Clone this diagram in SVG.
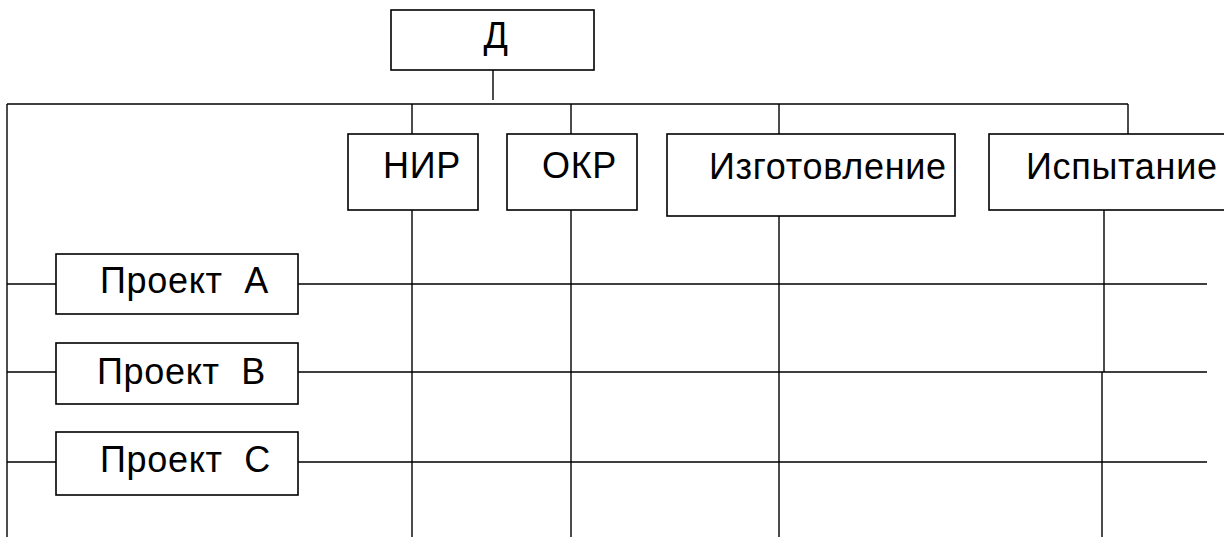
<svg xmlns="http://www.w3.org/2000/svg" width="1224" height="537" viewBox="0 0 1224 537">
  <style>
    .box { fill: #fff; stroke: #000; stroke-width: 1.6; }
    .lbl { font-family: "Liberation Sans", Arial, sans-serif; font-size: 36px; letter-spacing: 0.7px; fill: #000; }
    .ln { fill: none; stroke: #000; stroke-width: 1.4; }
  </style>
  <rect width="1224" height="537" fill="#fff"/>

  <!-- connectors -->
  <g id="connectors" class="ln">
    <path d="M493 70 V100"/>
    <path d="M7 104 H1128"/>
    <path d="M7 104 V537"/>
    <path d="M412 104 V134 M571 104 V134 M779 104 V134 M1128 104 V134"/>
    <path d="M412 210 V537 M571 210 V537 M779 216 V537"/>
    <path d="M1104 210 V372 M1102 372 V537"/>
    <path d="M7 284 H56 M298 284 H1207"/>
    <path d="M7 372 H56 M298 372 H1207"/>
    <path d="M7 462 H56 M298 462 H1207"/>
  </g>

  <g id="node-d">
    <rect class="box" x="391" y="10" width="203" height="60"/>
    <text class="lbl" x="496" y="48" text-anchor="middle">Д</text>
  </g>
  <g id="node-nir">
    <rect class="box" x="348" y="134" width="130" height="76"/>
    <text class="lbl" x="383" y="178">НИР</text>
  </g>
  <g id="node-okr">
    <rect class="box" x="507" y="134" width="130" height="76"/>
    <text class="lbl" x="542" y="178">ОКР</text>
  </g>
  <g id="node-manufacture">
    <rect class="box" x="667" y="134" width="288" height="82"/>
    <text class="lbl" x="709" y="179">Изготовление</text>
  </g>
  <g id="node-testing">
    <rect class="box" x="989" y="134" width="245" height="76"/>
    <text class="lbl" x="1026" y="179">Испытание</text>
  </g>
  <g id="node-project-a">
    <rect class="box" x="56" y="254" width="242" height="60"/>
    <text class="lbl" x="100" y="293" xml:space="preserve">Проект  A</text>
  </g>
  <g id="node-project-b">
    <rect class="box" x="56" y="343" width="242" height="61"/>
    <text class="lbl" x="97" y="384" xml:space="preserve">Проект  B</text>
  </g>
  <g id="node-project-c">
    <rect class="box" x="56" y="432" width="242" height="63"/>
    <text class="lbl" x="100" y="472" xml:space="preserve">Проект  C</text>
  </g>
</svg>
